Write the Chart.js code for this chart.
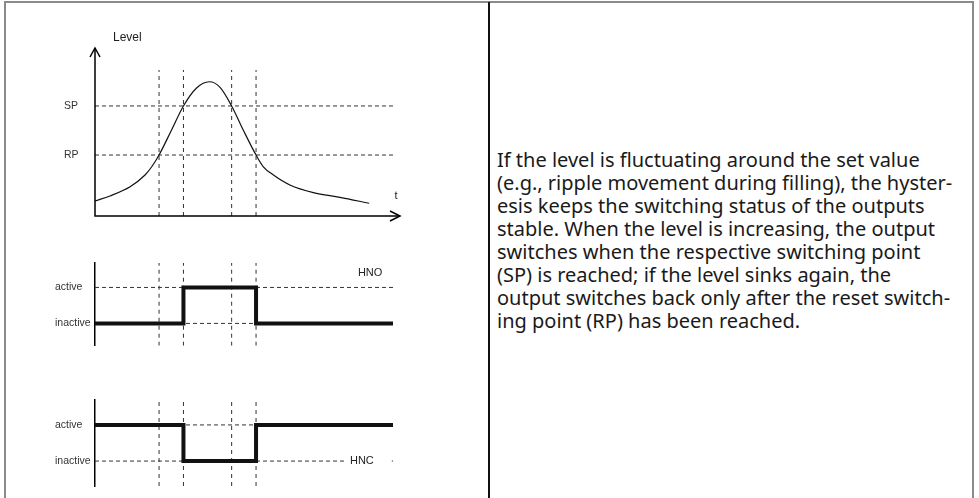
<!DOCTYPE html>
<html>
<head>
<meta charset="utf-8">
<script src="https://cdn.jsdelivr.net/npm/chart.js@4.4.0/dist/chart.umd.min.js"></script>
<style>
  body { margin: 0; background: #fff; width: 979px; height: 498px; overflow: hidden; position: relative; }
  .frame { position: absolute; left: 4px; top: 1px; width: 970px; height: 540px; border: 2px solid #8a8a8a; box-sizing: border-box; }
  .divider { position: absolute; left: 488px; top: 2px; width: 2px; height: 520px; background: #111; }
  canvas { position: absolute; left: 0; }
  #level { top: 0; }
  #hno { top: 230px; }
  #hnc { top: 370px; }
  .note { position: absolute; left: 497px; top: 148px; font-family: "Noto Sans", sans-serif; font-size: 20px; line-height: 23px; color: #1a1a1a; white-space: nowrap; }
</style>
</head>
<body>
<div class="frame"></div>
<div class="divider"></div>
<canvas id="level" width="489" height="230"></canvas>
<canvas id="hno" width="489" height="125"></canvas>
<canvas id="hnc" width="489" height="128"></canvas>
<div class="note">
If the level is fluctuating around the set value<br>
(e.g., ripple movement during filling), the hyster-<br>
esis keeps the switching status of the outputs<br>
stable. When the level is increasing, the output<br>
switches when the respective switching point<br>
(SP) is reached; if the level sinks again, the<br>
output switches back only after the reset switch-<br>
ing point (RP) has been reached.
</div>
<script>
// time of the four switching moments (RP up, SP up, SP down, RP down)
const markerT = [21.0, 29.0, 44.8, 52.8];
const markerTop = 86.9;
const lineEnd = 97.7;

// level curve
const levelT = [0, 4.9, 11.5, 16.4, 18.6, 21.0, 25.1, 29.0, 33.3, 37.5, 41.0, 44.8, 48.6, 52.8, 55.2, 58.5, 63.9, 71.6, 80.3, 89.9];
const levelV = [8.9, 11.9, 17.4, 24.4, 29.3, 36.3, 51.2, 65.5, 76.2, 79.9, 76.6, 65.5, 51.2, 36.3, 29.3, 24.4, 18.5, 13.9, 11.1, 7.6];
const levelTickVals = [36.3, 65.5];
const levelTickText = ['RP', 'SP'];

// output states (0 = inactive, 1 = active)
const hnoT = [0, 29.0, 52.8, 97.7];
const hnoV = [0, 1, 0, 0];
const hncT = [0, 29.0, 52.8, 97.7];
const hncV = [1, 0, 1, 1];
const stateTickVals = [0, 1];
const stateTickText = ['inactive', 'active'];

const pts = (xs, ys) => xs.map((x, i) => ({ x: x, y: ys[i] }));

function dashed(points, dash) {
    return {
        data: points,
        borderColor: '#333',
        borderWidth: 1,
        borderDash: dash,
        pointRadius: 0,
        tension: 0
    };
}

const decor = {
    id: 'decor',
    afterDatasetsDraw(chart, args, opts) {
        const ctx = chart.ctx;
        const xs = chart.scales.x, ys = chart.scales.y;
        ctx.save();
        if (opts.arrows) {
            const x0 = xs.getPixelForValue(xs.min), x1 = xs.getPixelForValue(xs.max);
            const y0 = ys.getPixelForValue(ys.min), y1 = ys.getPixelForValue(ys.max);
            ctx.strokeStyle = '#000';
            ctx.lineWidth = 1.5;
            ctx.beginPath();
            ctx.moveTo(x0, y1); ctx.lineTo(x0, y0); ctx.lineTo(x1, y0);
            ctx.stroke();
            ctx.beginPath();
            ctx.moveTo(x0 - 5, y1 + 9); ctx.lineTo(x0, y1); ctx.lineTo(x0 + 5, y1 + 9);
            ctx.moveTo(x1 - 10, y0 - 5); ctx.lineTo(x1, y0); ctx.lineTo(x1 - 10, y0 + 5);
            ctx.stroke();
        }
        (opts.labels || []).forEach(l => {
            const px = xs.getPixelForValue(l.x), py = ys.getPixelForValue(l.y);
            ctx.font = (l.size || 11) + 'px "Liberation Sans", Arial, sans-serif';
            ctx.textBaseline = 'middle';
            ctx.textAlign = 'left';
            if (l.bg) {
                const w = ctx.measureText(l.text).width;
                ctx.fillStyle = '#fff';
                ctx.fillRect(px - l.bg[0], py - 6, w + l.bg[0] + l.bg[1], 12);
            }
            ctx.fillStyle = '#222';
            ctx.fillText(l.text, px, py);
        });
        ctx.restore();
    }
};

function makeChart(id, datasets, y, pad, yWidth, decorOpts) {
    return new Chart(document.getElementById(id), {
        type: 'line',
        data: { datasets: datasets },
        plugins: [decor],
        options: {
            responsive: false,
            animation: false,
            layout: { padding: pad },
            plugins: { legend: { display: false }, tooltip: { enabled: false }, decor: decorOpts },
            scales: {
                x: { type: 'linear', min: 0, max: 100, display: false },
                y: {
                    type: 'linear', min: y.min, max: y.max,
                    grid: { display: false },
                    border: y.border ? { display: true, color: '#000', width: 1.5 } : { display: false },
                    afterFit: s => { s.width = yWidth; },
                    afterBuildTicks: s => { s.ticks = y.vals.map(v => ({ value: v })); },
                    ticks: {
                        crossAlign: 'far',
                        color: '#333',
                        font: { family: '"Liberation Sans", Arial, sans-serif', size: 10.5 },
                        callback: v => y.text[y.vals.indexOf(v)]
                    }
                }
            }
        }
    });
}

// level diagram
makeChart('level', [
    { data: pts(levelT, levelV), borderColor: '#111', borderWidth: 1.2, pointRadius: 0, cubicInterpolationMode: 'monotone' },
    ...levelTickVals.map(v => dashed([{ x: 0, y: v }, { x: lineEnd, y: v }], [4, 3])),
    ...markerT.map(t => dashed([{ x: t, y: 0 }, { x: t, y: markerTop }], [4, 4]))
], { min: 0, max: 100, vals: levelTickVals, text: levelTickText, border: false },
   { left: 64, top: 48, right: 89, bottom: 14 }, 31,
   { arrows: true, labels: [{ text: 'Level', x: 5.9, y: 106, size: 12 }, { text: 't', x: 98.2, y: 12 }] });

// switching output HNO
makeChart('hno', [
    { data: pts(hnoT, hnoV), borderColor: '#111', borderWidth: 4, pointRadius: 0, stepped: 'before', clip: false },
    ...stateTickVals.map(v => dashed([{ x: 0, y: v }, { x: lineEnd, y: v }], [4, 3])),
    ...markerT.map(t => dashed([{ x: t, y: -0.62 }, { x: t, y: 1.68 }], [4, 4]))
], { min: -0.62, max: 1.68, vals: stateTickVals, text: stateTickText, border: true },
   { left: 55, top: 33, right: 89, bottom: 7 }, 40,
   { arrows: false, labels: [{ text: 'HNO', x: 86.2, y: 1.41 }] });

// switching output HNC
makeChart('hnc', [
    { data: pts(hncT, hncV), borderColor: '#111', borderWidth: 4, pointRadius: 0, stepped: 'before', clip: false },
    ...stateTickVals.map(v => dashed([{ x: 0, y: v }, { x: lineEnd, y: v }], [4, 3])),
    ...markerT.map(t => dashed([{ x: t, y: -0.69 }, { x: t, y: 1.69 }], [4, 4]))
], { min: -0.69, max: 1.69, vals: stateTickVals, text: stateTickText, border: true },
   { left: 55, top: 30, right: 89, bottom: 12 }, 40,
   { arrows: false, labels: [{ text: 'HNC', x: 83.6, y: 0, bg: [6, 18] }] });
</script>
</body>
</html>
